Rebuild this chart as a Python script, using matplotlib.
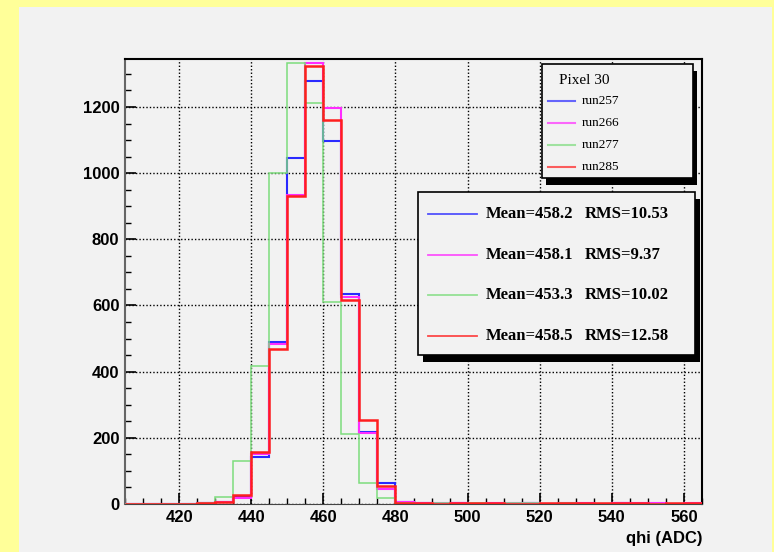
import numpy as np
import matplotlib.pyplot as plt
from matplotlib.patches import Rectangle
from matplotlib.lines import Line2D

# Histogram bins (qhi in ADC), width 5 from 405 to 565
edges = np.arange(405, 566, 5)

# Counts per bin
run257 = [0, 0, 0, 0, 2, 6, 20, 143, 489, 1045, 1279, 1097, 635, 218, 62, 5,
          2, 1, 2, 1, 0, 1, 2, 1, 1, 0, 1, 2, 1, 1, 0, 1]
run266 = [0, 0, 0, 0, 4, 7, 18, 150, 485, 935, 1333, 1196, 625, 215, 45, 6,
          3, 2, 3, 1, 3, 4, 2, 1, 3, 2, 1, 3, 2, 4, 1, 3]
run277 = [0, 0, 0, 1, 3, 20, 130, 417, 1000, 1332, 1211, 610, 213, 63, 18, 2,
          1, 3, 1, 2, 1, 2, 3, 1, 2, 1, 1, 1, 1, 1, 1, 1]
run285 = [0, 0, 0, 0, 2, 5, 27, 156, 467, 932, 1324, 1161, 618, 253, 53, 4,
          4, 1, 2, 4, 2, 1, 1, 4, 2, 3, 4, 2, 4, 1, 4, 2]

runs = ['run257', 'run266', 'run277', 'run285']
means = ['458.2', '458.1', '453.3', '458.5']
rmss = ['10.53', '9.37', '10.02', '12.58']
colors = ['#2a2aff', '#ff2cff', '#7ddc7d', '#ff1e1e']
widths = [1.5, 1.5, 1.1, 1.8]

W, H = 774, 552
fig = plt.figure(figsize=(W / 100, H / 100), dpi=100)
fig.patch.set_facecolor('#ffff99')


def fx(x):
    return x / W


def fy(y):
    return 1 - y / H


# grey pad behind everything
fig.patches.append(Rectangle((fx(19), 0), fx(772) - fx(19), fy(7),
                             transform=fig.transFigure, facecolor='#f2f2f2',
                             edgecolor='none', zorder=-5))

ax = fig.add_axes([fx(125), fy(504), fx(702) - fx(125), fy(59) - fy(504)])
ax.set_facecolor('#f2f2f2')

for vals, c, lw in zip([run257, run266, run277, run285], colors, widths):
    ax.stairs(vals, edges, color=c, linewidth=lw, baseline=0, zorder=3)

ax.set_xlim(405, 565)
ax.set_ylim(0, 1345)
ax.set_xticks(np.arange(420, 561, 20))
ax.set_xticks(np.arange(405, 566, 5), minor=True)
ax.set_yticks(np.arange(0, 1201, 200))
ax.set_yticks(np.arange(0, 1345, 50), minor=True)
ax.grid(True, which='major', color='black', linestyle=(0, (1, 1.5)),
        linewidth=1.0, zorder=1)
ax.set_axisbelow(True)

ax.tick_params(which='both', direction='in', top=False, right=False,
               labelsize=12, pad=4)
ax.tick_params(which='major', length=8, width=1.2)
ax.tick_params(which='minor', length=4, width=1)
for lab in ax.get_xticklabels() + ax.get_yticklabels():
    lab.set_fontfamily('Liberation Sans')
    lab.set_fontweight('bold')

ax.spines['left'].set_color('#666666')
ax.spines['left'].set_linewidth(1.5)
ax.spines['bottom'].set_color('#444444')
ax.spines['top'].set_linewidth(1.5)
ax.spines['right'].set_linewidth(1.5)

fig.text(fx(702), fy(538), 'qhi (ADC)', ha='right', va='center',
         fontsize=12, fontweight='bold', family='Liberation Sans')


def box(x0, y0, x1, y1, dx, dy):
    # ROOT-style legend box with a dark shadow
    fig.patches.append(Rectangle((fx(x0 + dx), fy(y1 + dy)), fx(x1 - x0),
                                 fy(y0) - fy(y1), transform=fig.transFigure,
                                 facecolor='black', edgecolor='none', zorder=5))
    fig.patches.append(Rectangle((fx(x0), fy(y1)), fx(x1 - x0),
                                 fy(y0) - fy(y1), transform=fig.transFigure,
                                 facecolor='#f2f2f2', edgecolor='black',
                                 linewidth=1.2, zorder=6))


# legend 1: run numbers
box(542, 64, 693, 178, 4, 7)
fig.text(fx(559), fy(81), 'Pixel 30', fontsize=11, family='Liberation Serif',
         va='center', zorder=7)
for i, (r, c) in enumerate(zip(runs, colors)):
    y = fy(101 + 22 * i)
    fig.lines.append(Line2D([fx(548), fx(575)], [y, y], color=c, alpha=0.7,
                            linewidth=1.5, transform=fig.transFigure, zorder=7))
    fig.text(fx(582), y, r, fontsize=9.5, family='Liberation Serif',
             va='center', zorder=7)

# legend 2: mean and rms
box(418, 192, 695, 355, 5, 7)
for i, (m, s, c) in enumerate(zip(means, rmss, colors)):
    y = fy(214 + 40.7 * i)
    fig.lines.append(Line2D([fx(428), fx(477)], [y, y], color=c, alpha=0.8,
                            linewidth=1.3, transform=fig.transFigure, zorder=7))
    fig.text(fx(486), y, 'Mean=' + m, fontsize=12, fontweight='bold',
             family='Liberation Serif', va='center', zorder=7)
    fig.text(fx(585), y, 'RMS=' + s, fontsize=12, fontweight='bold',
             family='Liberation Serif', va='center', zorder=7)

fig.savefig('out.png', dpi=100, facecolor=fig.get_facecolor())
